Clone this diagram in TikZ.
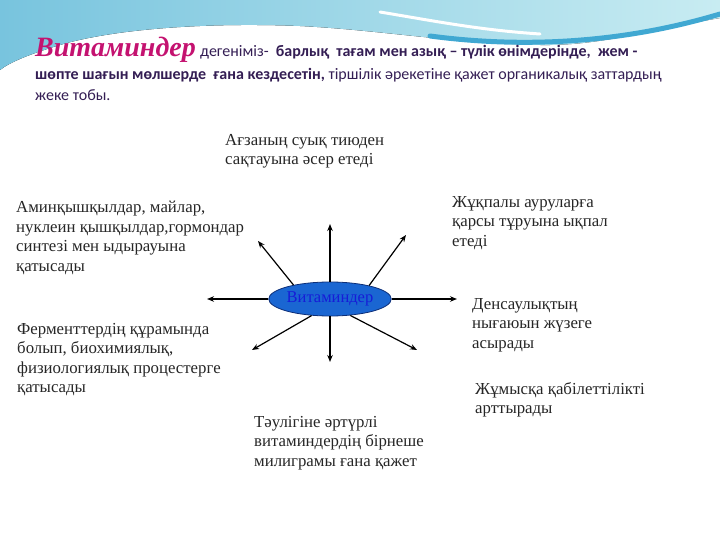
\documentclass[tikz,border=0pt]{standalone}
\usepackage{fontspec}
\setmainfont{Liberation Serif}
\newfontfamily\hdsans{Carlito}
\usetikzlibrary{arrows.meta,shapes.geometric}

\definecolor{headpink}{RGB}{196,18,112}
\definecolor{headtext}{RGB}{52,30,84}
\definecolor{vitfill}{RGB}{26,102,210}
\definecolor{vitline}{RGB}{12,46,120}
\definecolor{vittext}{RGB}{22,28,215}
\definecolor{skyA}{RGB}{120,196,222}
\definecolor{skyB}{RGB}{200,236,242}
\definecolor{skyC}{RGB}{64,168,210}

\begin{document}
\begin{tikzpicture}[
   x = 1pt, y = -1pt,
   hdtext/.style = {anchor=base west, inner sep=0pt, text=headtext,
      font=\hdsans\fontsize{16}{18}\selectfont},
   label/.style = {anchor=north west, inner sep=0pt, align=left,
      text=black!85, font=\fontsize{16.8}{19.5}\selectfont},
   ray/.style = {line width=1.2pt, -{Stealth[length=7pt,width=5.5pt]}},
]
   \useasboundingbox (0,0) rectangle (720,540);
   % header wave
   \fill [left color=skyA, right color=skyB]
      (0,0) -- (720,0) -- (720,18)
      .. controls (650,30) and (600,46) .. (540,45)
      .. controls (450,43) and (380,30) .. (300,26)
      .. controls (200,22) and (110,30) .. (60,45)
      .. controls (30,54) and (10,62) .. (0,70) -- cycle;
   \draw [skyC, line width=5pt, line cap=round]
      (430,36) .. controls (520,48) and (620,44) .. (720,14);
   \draw [white, line width=3pt, line cap=round]
      (380,12) .. controls (440,22) and (480,30) .. (540,34);
   % header text
   \node [anchor=base west, inner sep=0pt, text=headpink,
      font=\bfseries\itshape\fontsize{28}{28}\selectfont]
      (title) at (35,57) {Витаминдер};
   \node [hdtext] (def1) at ([xshift=4pt]title.base east)
      {дегеніміз-\ \ \textbf{барлық\ \ тағам мен азық – түлік өнімдерінде,\ \ жем -}};
   \node [hdtext] (def2) at (35,80)
      {\textbf{шөпте шағын мөлшерде\ \ ғана кездесетін,} тіршілік әрекетіне қажет органикалық заттардың};
   \node [hdtext] (def3) at (35,101) {жеке тобы.};

   % centre
   \node [ellipse, draw=vitline, fill=vitfill, line width=0.8pt,
      minimum width=119pt, minimum height=34pt, inner sep=0pt,
      text=vittext, font=\fontsize{16.5}{16.5}\selectfont]
      (vit) at (330,299) {Витаминдер};

   % arrow ends
   \coordinate (n)  at (330,224);
   \coordinate (ne) at (406,235);
   \coordinate (nw) at (258,241);
   \coordinate (w)  at (207,299);
   \coordinate (e)  at (457,299);
   \coordinate (sw) at (252,350);
   \coordinate (s)  at (330,362);
   \coordinate (se) at (417,350);

   % arrows
   \draw [ray] (vit.north) -- (n);
   \draw [ray] (vit.19)    -- (ne);
   \draw [ray] (vit.159)   -- (nw);
   \draw [ray] (vit.west)  -- (w);
   \draw [ray] (vit.east)  -- (e);
   \draw [ray] (vit.222)   -- (sw);
   \draw [ray] (vit.south) -- (s);
   \draw [ray] (vit.321)   -- (se);

   % labels
   \node [label] (cold) at (225,134)
      {Ағзаның суық тиюден\\сақтауына әсер етеді};
   \node [label] (synth) at (16,201)
      {Аминқышқылдар, майлар,\\нуклеин қышқылдар,гормондар\\синтезі мен ыдырауына\\қатысады};
   \node [label] (infect) at (452,196)
      {Жұқпалы ауруларға\\қарсы тұруына ықпал\\етеді};
   \node [label] (health) at (472,298)
      {Денсаулықтың\\нығаюын жүзеге\\асырады};
   \node [label] (work) at (475,382)
      {Жұмысқа қабілеттілікті\\арттырады};
   \node [label] (enzyme) at (17,323)
      {Ферменттердің құрамында\\болып, биохимиялық,\\физиологиялық процестерге\\қатысады};
   \node [label] (dose) at (254,416)
      {Тәулігіне әртүрлі\\витаминдердің бірнеше\\милиграмы ғана қажет};
\end{tikzpicture}
\end{document}
